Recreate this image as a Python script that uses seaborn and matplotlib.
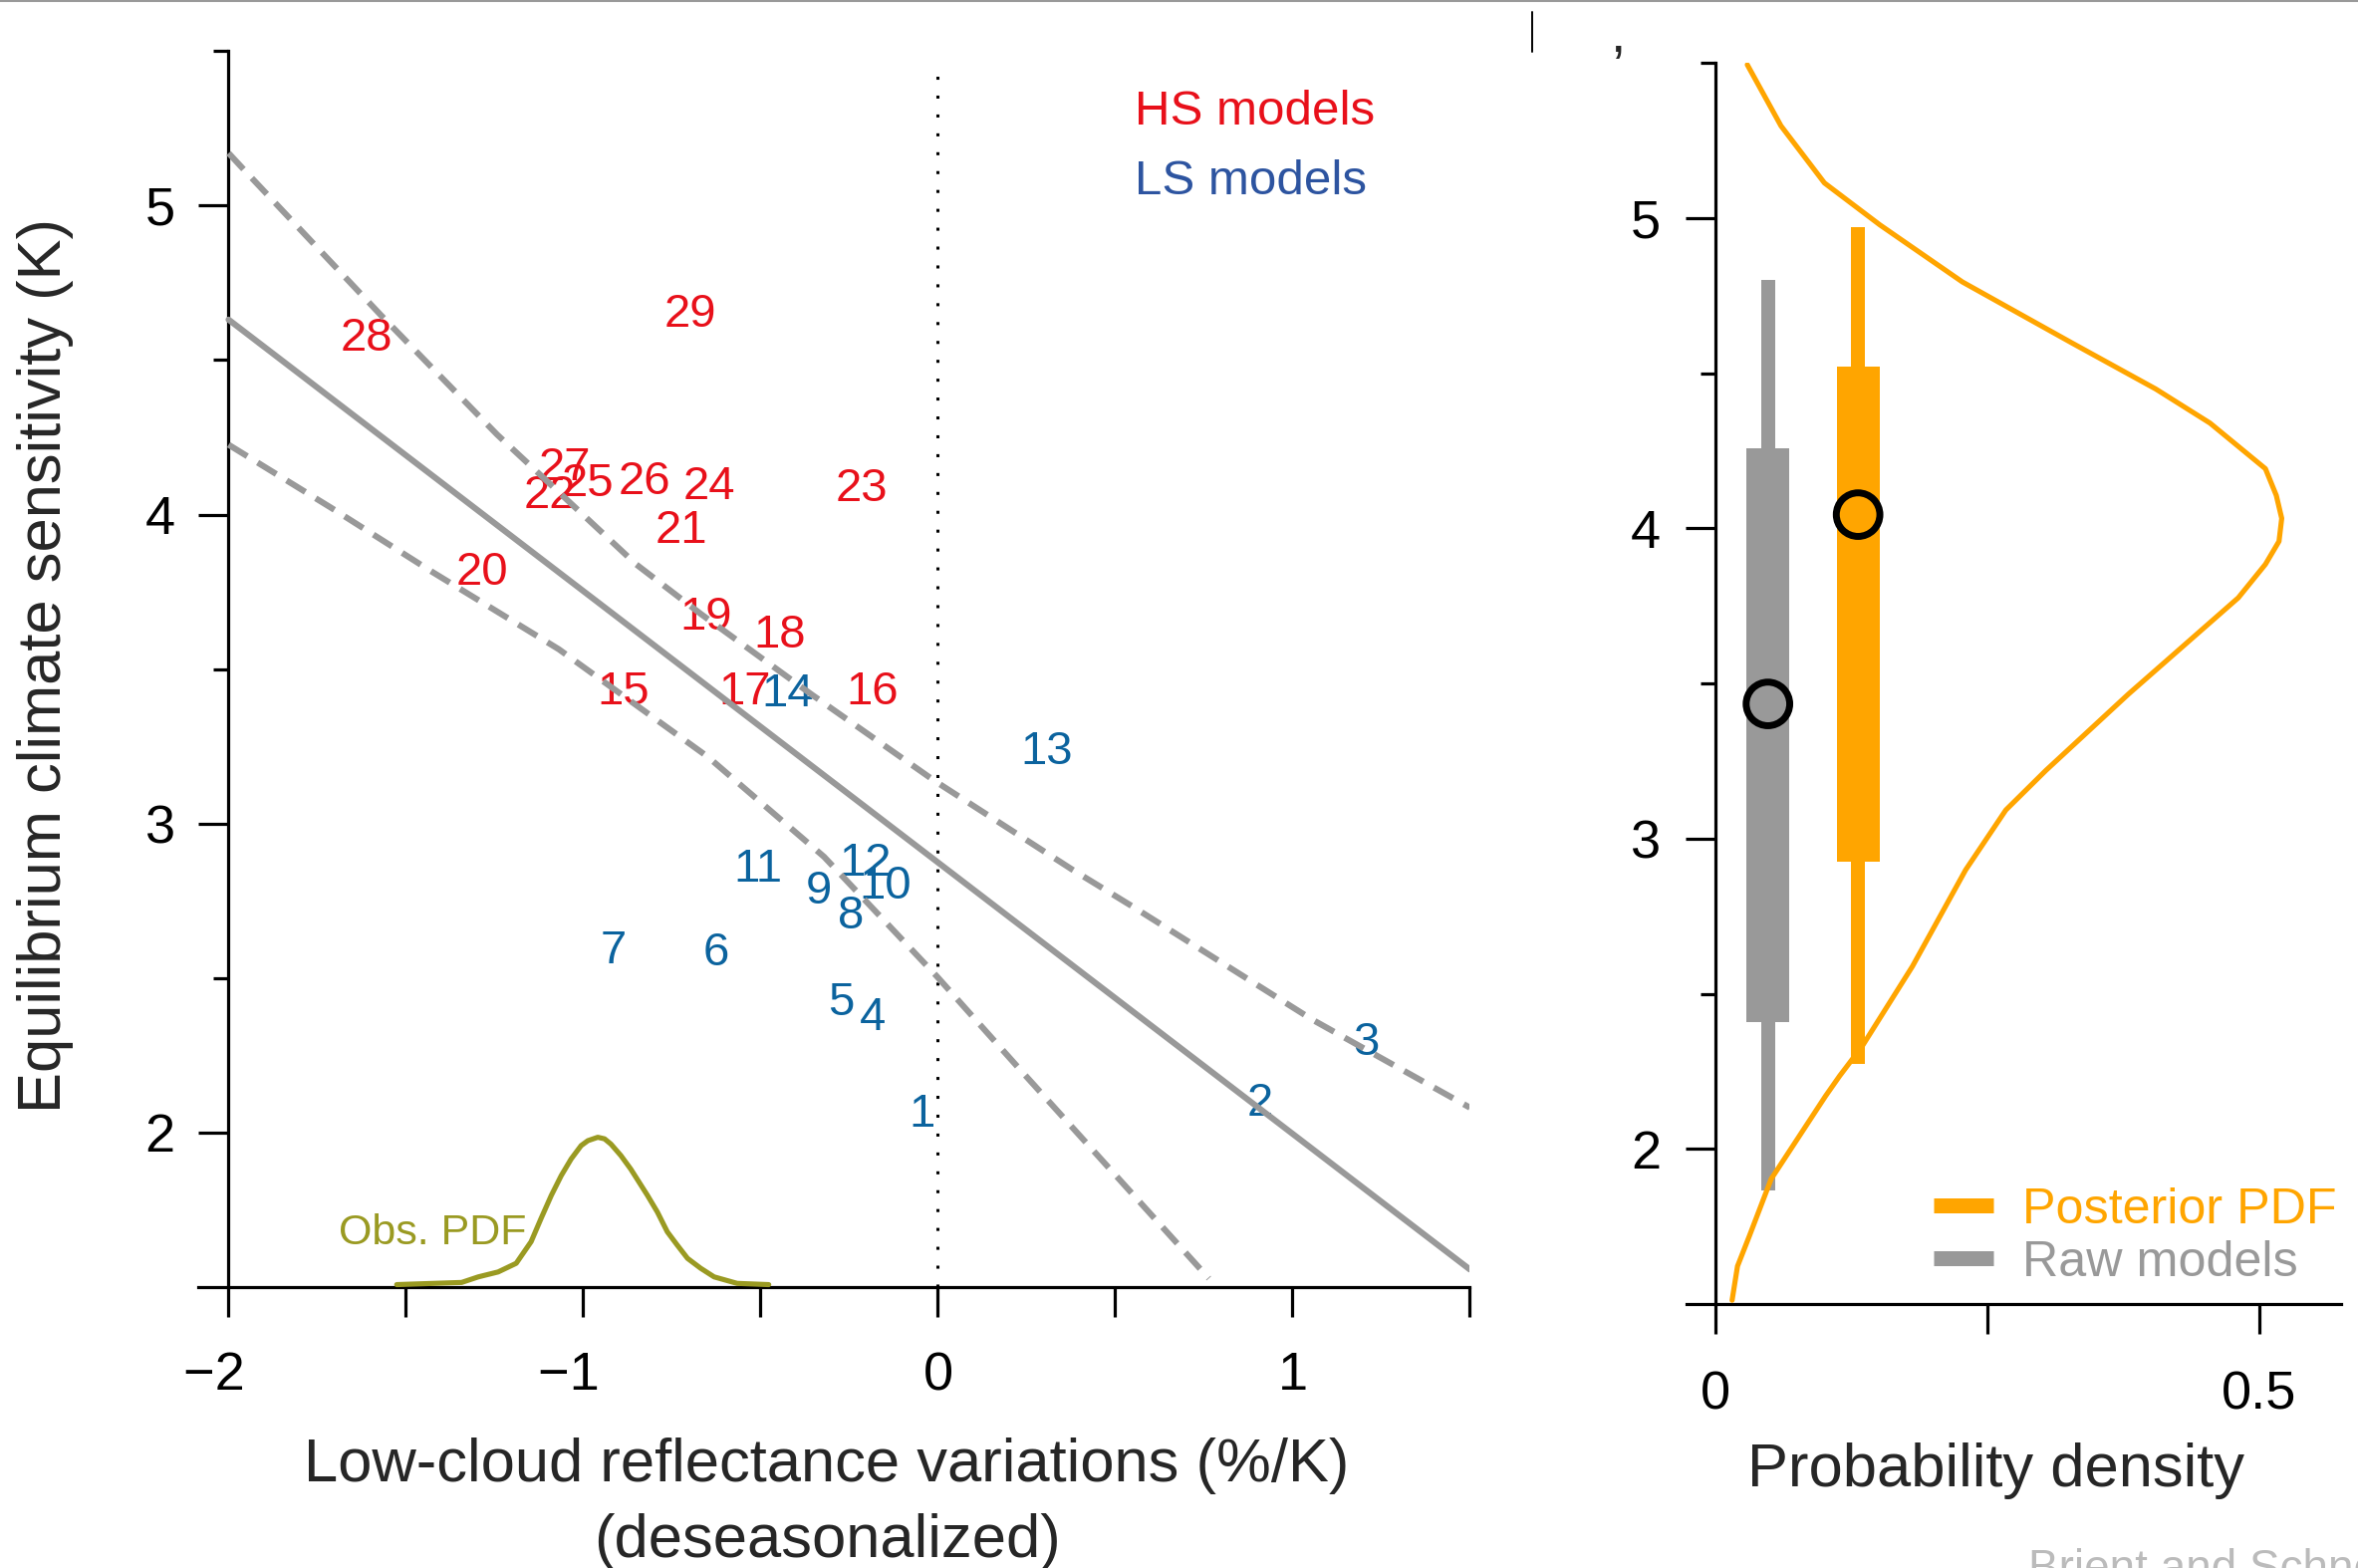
import matplotlib
matplotlib.use("Agg")
import matplotlib.pyplot as plt
from matplotlib.lines import Line2D
import seaborn as sns

# ---------------- data ----------------
model_labels = [str(i) for i in range(1, 30)]
model_feedback = [-0.045, 0.909, 1.208, -0.185, -0.274, -0.625, -0.914, -0.246, -0.335, -0.148,
                  -0.508, -0.204, 0.306, -0.424, -0.886, -0.185, -0.545, -0.447, -0.653, -1.285,
                  -0.725, -1.094, -0.214, -0.645, -0.987, -0.827, -1.052, -1.612, -0.697]
model_ecs = [2.074, 2.108, 2.306, 2.387, 2.435, 2.597, 2.602, 2.715, 2.796, 2.812,
             2.865, 2.887, 3.247, 3.435, 3.440, 3.440, 3.440, 3.623, 3.682, 3.826,
             3.963, 4.076, 4.097, 4.106, 4.114, 4.121, 4.167, 4.586, 4.662]
model_group = ["LS"] * 14 + ["HS"] * 15

# regression line and its uncertainty envelope
fit_x = [-2.0, 1.5]
fit_y = [4.631, 1.556]
band_hi_x = [-2.0, -1.954, -1.571, -1.243, -0.851, -0.667, -0.358, -0.012, 0.381, 0.549, 1.054, 1.5]
band_hi_y = [5.17, 5.113, 4.646, 4.259, 3.839, 3.677, 3.419, 3.140, 2.849, 2.731, 2.366, 2.08]
band_lo_x = [-2.0, -1.711, -1.431, -1.069, -0.648, -0.321, -0.003, 0.231, 0.764]
band_lo_y = [4.226, 4.022, 3.818, 3.564, 3.215, 2.892, 2.505, 2.204, 1.527]

# observational PDF of the reflectance variations (drawn on the ECS axis baseline)
obs_x = [-1.526, -1.343, -1.296, -1.240, -1.189, -1.147, -1.119, -1.090, -1.062, -1.034,
         -1.006, -0.987, -0.959, -0.940, -0.922, -0.894, -0.866, -0.819, -0.791, -0.763,
         -0.735, -0.706, -0.669, -0.631, -0.566, -0.477]
obs_y = [1.507, 1.514, 1.532, 1.548, 1.576, 1.646, 1.721, 1.796, 1.860, 1.914,
         1.957, 1.973, 1.984, 1.979, 1.962, 1.925, 1.881, 1.796, 1.742, 1.678,
         1.635, 1.592, 1.560, 1.532, 1.511, 1.507]

# posterior PDF of ECS
post_ecs = [5.494, 5.297, 5.113, 4.978, 4.794, 4.597, 4.449, 4.339, 4.192, 4.106, 4.032,
            3.958, 3.884, 3.776, 3.466, 3.220, 3.092, 2.899, 2.588, 2.332, 2.235, 2.170,
            1.903, 1.720, 1.622, 1.512]
post_density = [0.029, 0.060, 0.100, 0.151, 0.227, 0.328, 0.405, 0.455, 0.506, 0.516, 0.521,
                0.5185, 0.506, 0.481, 0.380, 0.304, 0.267, 0.230, 0.181, 0.135, 0.114, 0.101,
                0.051, 0.031, 0.020, 0.015]

# box summaries: raw model spread vs. posterior
box_names = ["Raw models", "Posterior PDF"]
box_pos = [0.048, 0.131]
box_whisk_lo = [1.866, 2.275]
box_q_lo = [2.409, 2.924]
box_median = [3.434, 4.044]
box_q_hi = [4.257, 4.520]
box_whisk_hi = [4.802, 4.972]

# ---------------- style ----------------
RED = "#E8101A"
BLUE = "#0B639E"
LS_BLUE = "#2D54A0"
GRAY = "#999999"
OLIVE = "#9A9A22"
ORANGE = "#FFA500"
group_color = {"HS": RED, "LS": BLUE}

sns.set_theme(style="ticks")
plt.rcParams["font.family"] = ["Liberation Sans", "DejaVu Sans"]
plt.rcParams["axes.unicode_minus"] = True

W, H = 2367, 1574
fig = plt.figure(figsize=(W / 100, H / 100), dpi=100)
fig.patch.set_facecolor("white")


def px_box(x0, x1, y_top, y_bot):
    return [x0 / W, 1 - y_bot / H, (x1 - x0) / W, (y_bot - y_top) / H]


ax = fig.add_axes(px_box(199.2, 1475.5, 51.4, 1291.7))
axr = fig.add_axes(px_box(1692.9, 2350.4, 63.1, 1309.0))

SPINE_W = 2.3
TICK_FS = 39
for a in (ax, axr):
    a.set_facecolor("white")
    a.grid(False)
    for s in ("top", "right"):
        a.spines[s].set_visible(False)
    for s in ("left", "bottom"):
        a.spines[s].set_linewidth(SPINE_W)
        a.spines[s].set_color("black")
    a.tick_params(which="both", direction="out", width=SPINE_W, colors="black",
                  labelsize=TICK_FS)
    a.tick_params(which="major", length=21.6)
    a.tick_params(axis="y", which="minor", length=11)
    a.set_ylim(1.5, 5.5)
    a.set_yticks([2, 3, 4, 5])
    a.set_yticks([2.5, 3.5, 4.5, 5.5], minor=True)
    a.set_xlabel("")
    a.set_ylabel("")


def tick_text(v):
    # integer ticks are labelled; negative labels sit a little left of their tick
    if v != int(v):
        return ""
    return f"\u2212{abs(v):.0f}  " if v < 0 else f"{v:.0f}"


# ---------------- left panel ----------------
ax.set_xlim(-2.085, 1.5)
ax.spines["left"].set_position(("data", -2.0))
xt = [-2.0, -1.5, -1.0, -0.5, 0.0, 0.5, 1.0, 1.5]
ax.set_xticks(xt, [tick_text(v) for v in xt])
ax.tick_params(axis="x", which="major", pad=25)
ax.tick_params(axis="y", which="major", pad=17)

ax.axvline(0, ymin=0, ymax=(5.47 - 1.5) / 4, color="black", linewidth=2.2,
           linestyle=(0, (1, 5.2)), dash_capstyle="butt", zorder=1)

for lab, x, y, g in zip(model_labels, model_feedback, model_ecs, model_group):
    ax.text(x, y, lab, color=group_color[g], fontsize=34, ha="center",
            va="center_baseline", zorder=2)

sns.lineplot(x=fit_x, y=fit_y, ax=ax, color=GRAY, linewidth=4.4, estimator=None,
             sort=False, zorder=3)
for bx, by in ((band_hi_x, band_hi_y), (band_lo_x, band_lo_y)):
    sns.lineplot(x=bx, y=by, ax=ax, color=GRAY, linewidth=4.4, estimator=None, sort=False,
                 linestyle=(0, (3.6, 2.0)), zorder=3)

sns.lineplot(x=obs_x, y=obs_y, ax=ax, color=OLIVE, linewidth=3.7, estimator=None,
             sort=False, clip_on=False, zorder=4)
ax.text(-1.690, 1.637, "Obs. PDF", color=OLIVE, fontsize=31, ha="left", va="baseline")

ax.text(0.556, 5.2625, "HS models", color=RED, fontsize=35.5, ha="left", va="baseline")
ax.text(0.556, 5.0367, "LS models", color=LS_BLUE, fontsize=35.5, ha="left", va="baseline")

# ---------------- right panel ----------------
axr.set_xlim(-0.027, 0.576)
axr.spines["left"].set_position(("data", 0.0))
axr.set_xticks([0, 0.25, 0.5], ["0", "", "0.5"])
axr.tick_params(axis="x", which="major", pad=26)
axr.tick_params(axis="y", which="major", pad=18)

box_colors = [GRAY, ORANGE]
for i, c in enumerate(box_colors):
    axr.bar(box_pos[i], box_whisk_hi[i] - box_whisk_lo[i], bottom=box_whisk_lo[i],
            width=0.0131, color=c, linewidth=0, zorder=2)
    axr.bar(box_pos[i], box_q_hi[i] - box_q_lo[i], bottom=box_q_lo[i],
            width=0.0397, color=c, linewidth=0, zorder=2)

sns.scatterplot(x=box_pos, y=box_median, ax=axr, s=31.5 ** 2, facecolor="none",
                edgecolor="black", linewidth=5, zorder=4, legend=False)

sns.lineplot(x=post_density, y=post_ecs, ax=axr, color=ORANGE, linewidth=3.7,
             estimator=None, sort=False, orient="y", zorder=3)

handles = [Line2D([], [], color=ORANGE, linewidth=10.8, solid_capstyle="butt"),
           Line2D([], [], color=GRAY, linewidth=10.8, solid_capstyle="butt")]
axr.legend(handles, [box_names[1], box_names[0]], loc="lower right",
           bbox_to_anchor=(2346 / W, 1 - 1291 / H), bbox_transform=fig.transFigure,
           frameon=False, fontsize=36.2, handlelength=1.2, handletextpad=0.58,
           labelspacing=0.14, borderpad=0, borderaxespad=0,
           labelcolor=[ORANGE, GRAY])

# ---------------- axis titles ----------------
LABEL_FS = 44.3
fig.text(830 / W, 1 - 1486.7 / H, "Low-cloud reflectance variations (%/K)",
         fontsize=LABEL_FS, ha="center", va="baseline")
fig.text(830 / W, 1 - 1563 / H, "(deseasonalized)", fontsize=LABEL_FS,
         ha="center", va="baseline")
fig.text(46 / W, 1 - 668 / H, "Equilibrium climate sensitivity (K)", fontsize=LABEL_FS,
         rotation=90, ha="center", va="center")
fig.text(2004 / W, 1 - 1491.7 / H, "Probability density", fontsize=LABEL_FS,
         ha="center", va="baseline")

# credit line and page furniture along the edges
fig.text(2036 / W, 1 - 1588 / H, "Brient and Schneider (2016)", fontsize=33,
         color="#BBBBBB", ha="left", va="baseline")
fig.add_artist(Line2D([0, 1], [1 - 1 / H, 1 - 1 / H], color=GRAY, linewidth=1.5,
                      transform=fig.transFigure))
fig.add_artist(Line2D([1537.5 / W, 1537.5 / W], [1 - 12 / H, 1 - 52 / H], color="black",
                      linewidth=1.4, transform=fig.transFigure))
fig.text(1624 / W, 1 - 52 / H, ",", fontsize=40, ha="center", va="baseline")

fig.savefig("out.png", dpi=100, facecolor="white")
